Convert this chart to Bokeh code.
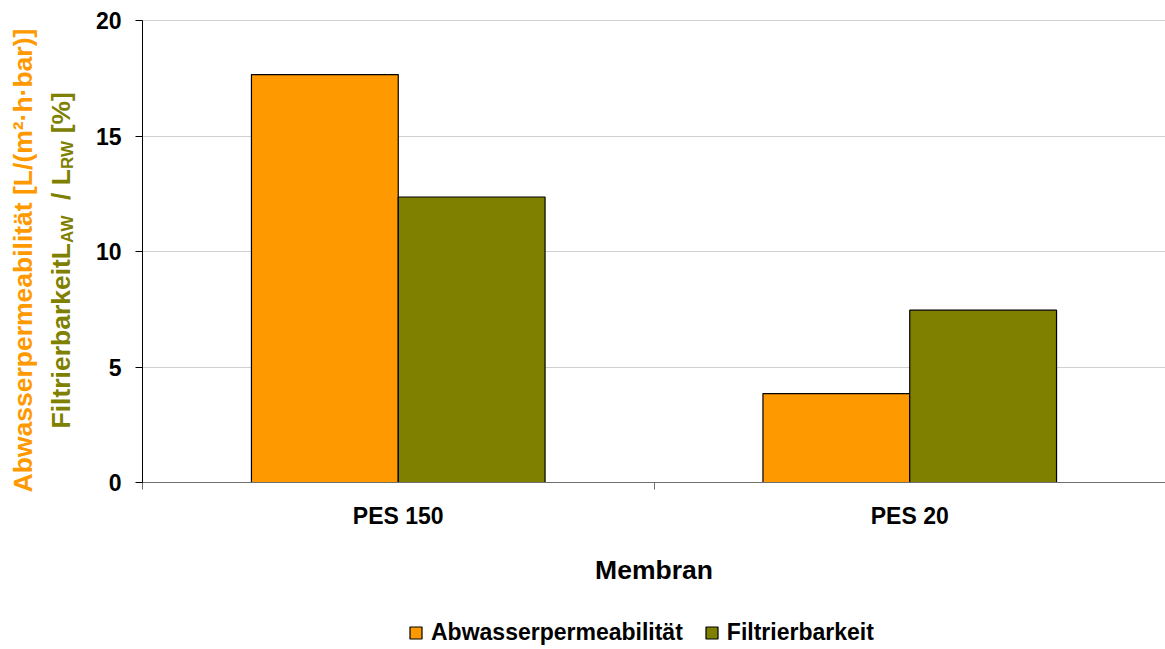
import math
from bokeh.plotting import figure
from bokeh.models import ColumnDataSource, Range1d, FixedTicker, Label, Legend, LegendItem
from bokeh.transform import dodge
from bokeh.embed import file_html
from bokeh.resources import INLINE

# --- data -------------------------------------------------------------
categories = ["PES 150", "PES 20"]
permeability = [17.66, 3.85]      # Abwasserpermeabilität [L/(m²·h·bar)]
filterability = [12.36, 7.46]     # Filtrierbarkeit L_AW / L_RW [%]
series_names = ["Abwasserpermeabilität", "Filtrierbarkeit"]
series_colors = ["#FF9900", "#808000"]
y_ticks = [0, 5, 10, 15, 20]
x_axis_title = "Membran"

FONT = "Liberation Sans"
W, H = 1165, 649
# pixel box of the value area; axes are pinned to its edges and the
# surrounding texts (titles, legend) share one frame with the bars
PLOT_LEFT, PLOT_TOP, PLOT_BOTTOM = 142, 20, 482

n_cat = len(categories)
centers = [i + 0.5 for i in range(n_cat)]
bounds = list(range(n_cat + 1))

x_px = (W - PLOT_LEFT) / n_cat
y_px = (PLOT_BOTTOM - PLOT_TOP) / (y_ticks[-1] - y_ticks[0])

source = ColumnDataSource(dict(x=centers, perm=permeability, filt=filterability))

p = figure(
    width=W, height=H, title=None,
    x_range=Range1d(-PLOT_LEFT / x_px, n_cat),
    y_range=Range1d(y_ticks[0] - (H - PLOT_BOTTOM) / y_px, y_ticks[-1] + PLOT_TOP / y_px),
    output_backend="svg", toolbar_location=None,
    min_border_left=0, min_border_right=0, min_border_top=0, min_border_bottom=0,
)
p.outline_line_color = None

# --- bars -------------------------------------------------------------
bar_w = 0.287
r_perm = p.vbar(x=dodge("x", -bar_w / 2), top="perm", width=bar_w, source=source,
                fill_color=series_colors[0], line_color="black", line_width=1.2)
r_filt = p.vbar(x=dodge("x", bar_w / 2), top="filt", width=bar_w, source=source,
                fill_color=series_colors[1], line_color="black", line_width=1.2)

# --- grid -------------------------------------------------------------
p.xgrid.visible = False
p.ygrid.grid_line_color = "#d0d0d0"
p.ygrid.grid_line_width = 1
p.ygrid.cross_bounds = (0, n_cat)

# --- y axis -----------------------------------------------------------
yax = p.yaxis[0]
yax.fixed_location = 0
yax.bounds = (y_ticks[0], y_ticks[-1])
yax.ticker = FixedTicker(ticks=y_ticks)
yax.axis_line_color = "black"
yax.major_tick_line_color = "black"
yax.major_tick_out = 7
yax.major_tick_in = 0
yax.minor_tick_out = 0
yax.minor_tick_in = 0
yax.major_label_standoff = 14
yax.major_label_text_font = FONT
yax.major_label_text_font_size = "23px"
yax.major_label_text_font_style = "bold"
yax.major_label_text_color = "black"

# --- x axis: labels at category centres, ticks at category boundaries ---
xax = p.xaxis[0]
xax.fixed_location = 0
xax.bounds = (0, n_cat)
xax.ticker = FixedTicker(ticks=centers, minor_ticks=bounds)
xax.major_label_overrides = {c: name for c, name in zip(centers, categories)}
xax.axis_line_color = "#707070"
xax.major_tick_out = 0
xax.major_tick_in = 0
xax.minor_tick_out = 7
xax.minor_tick_in = 0
xax.minor_tick_line_color = "#707070"
xax.major_label_standoff = 13
xax.major_label_text_font = FONT
xax.major_label_text_font_size = "23px"
xax.major_label_text_font_style = "bold"
xax.major_label_text_color = "black"
xax.axis_label = x_axis_title
xax.axis_label_standoff = 23
xax.axis_label_text_font = FONT
xax.axis_label_text_font_size = "26.5px"
xax.axis_label_text_font_style = "bold"
xax.axis_label_text_color = "black"

# --- legend under the axis title ------------------------------------
legend = Legend(
    items=[LegendItem(label=series_names[0], renderers=[r_perm]),
           LegendItem(label=series_names[1], renderers=[r_filt])],
    orientation="horizontal", location=(408, 3),
    glyph_width=15, glyph_height=15, label_standoff=8, spacing=21,
    padding=0, margin=0, border_line_color=None, background_fill_alpha=0,
    label_text_font=FONT, label_text_font_size="23px", label_text_font_style="bold",
    label_text_color="black",
)
p.add_layout(legend)

# --- two-coloured rotated y-axis title --------------------------------
# advance widths (per 1000 em) of the bold sans face, used to chain the
# pieces of the second line (normal text and subscripts)
ADV = {"F": 611, "i": 278, "l": 278, "t": 333, "r": 389, "e": 556, "b": 611,
       "a": 556, "k": 556, "L": 611, "A": 722, "W": 944, "R": 722, " ": 278,
       "/": 278, "[": 333, "%": 889, "]": 333}


def text_width(s, size):
    return sum(ADV[ch] for ch in s) * size / 1000.0


def rotated_label(txt, x, y, size, color):
    p.add_layout(Label(x=x, y=y, x_units="screen", y_units="screen", text=txt,
                       angle=math.pi / 2, text_align="left", text_baseline="alphabetic",
                       text_font=FONT, text_font_size=f"{size}px", text_font_style="bold",
                       text_color=color))


rotated_label("Abwasserpermeabilität [L/(m²·h·bar)]", 22, H - 492, 26.5, series_colors[0])

main_size, sub_size, sub_shift = 26.5, 17, 7
pieces = [("FiltrierbarkeitL", False), ("AW", True), ("  / L", False), ("RW", True), (" [%]", False)]
cursor = H - 428
for txt, is_sub in pieces:
    size = sub_size if is_sub else main_size
    body = txt.lstrip(" ")
    cursor += text_width(txt[:len(txt) - len(body)], size)   # leading blanks as an advance
    rotated_label(body, 60 + (sub_shift if is_sub else 0), cursor, size, series_colors[1])
    cursor += text_width(body, size)

open("out.html", "w").write(file_html(p, INLINE))
